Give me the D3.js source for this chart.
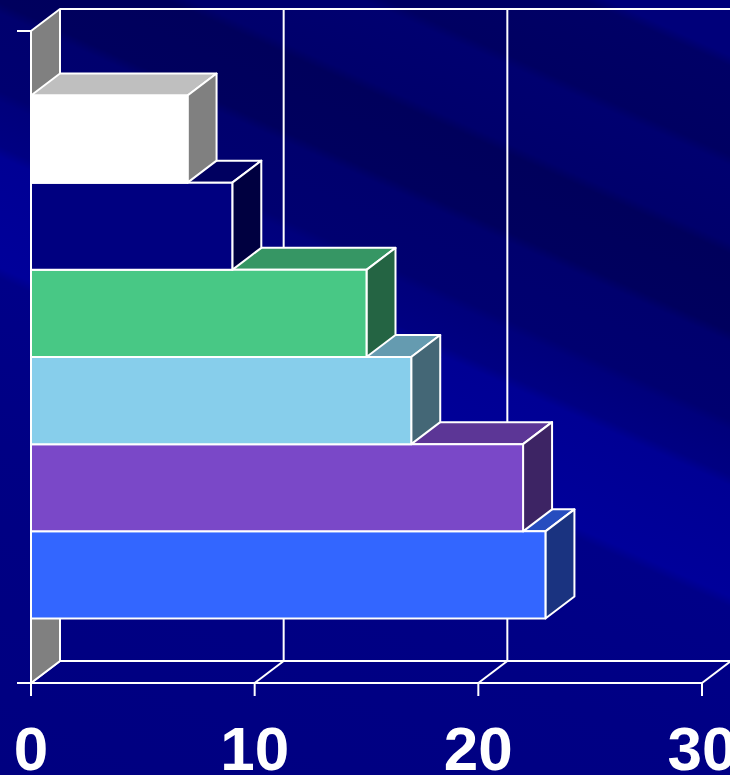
<!DOCTYPE html>
<html><head><meta charset="utf-8">
<script src="https://cdn.jsdelivr.net/npm/d3@7"></script>
<style>html,body{margin:0;padding:0;background:#000080;overflow:hidden}</style>
</head><body>
<svg id="chart" width="730" height="775"></svg>
<script>
const categories = ["A", "B", "C", "D", "E", "F"];
const values = [7, 9, 15, 17, 22, 23];
const colors = ["#FFFFFF", "#000080", "#48C885", "#87CEEB", "#7A48C8", "#3366FF"];
const xTicks = [0, 10, 20, 30];
const tickLabels = ["0", "10", "20", "30"];

const W = 730, H = 775;
const DX = 29, DY = 22;
const svg = d3.select("#chart");

// background with diagonal streaks
const defs = svg.append("defs");
const g = defs.append("linearGradient").attr("id", "bg")
  .attr("gradientUnits", "userSpaceOnUse")
  .attr("x1", 730).attr("y1", 0).attr("x2", 317).attr("y2", 918);
[[0, "#00007a"], [0.05, "#00007a"], [0.06, "#000066"], [0.14, "#000062"], [0.15, "#000070"],
 [0.22, "#00006c"], [0.23, "#00005c"], [0.3, "#00005e"], [0.31, "#00006e"], [0.38, "#000070"],
 [0.39, "#00007c"], [0.43, "#000082"], [0.44, "#000094"], [0.54, "#00009a"], [0.55, "#000088"],
 [0.7, "#000084"], [1, "#000080"]]
 .forEach(([o, c]) => g.append("stop").attr("offset", o).attr("stop-color", c));
svg.append("rect").attr("width", W).attr("height", H).attr("fill", "url(#bg)");

const x = d3.scaleLinear().domain([0, 30]).range([31, 702]);
const y = d3.scaleBand().domain(categories).range([31, 683]).paddingInner(0).paddingOuter(0.74);
const yTop = 31, yBot = 683;
const line = d3.line();
const stroke = "#FFFFFF";

// back wall / floor gridlines
const grid = svg.append("g").attr("fill", "none").attr("stroke", stroke).attr("stroke-width", 2);
grid.append("path").attr("d", line([[x(0) + DX, yTop - DY], [x(30) + DX, yTop - DY]]));
grid.append("path").attr("d", line([[x(0) + DX, yBot - DY], [x(30) + DX, yBot - DY]]));
xTicks.forEach(v => {
  grid.append("path").attr("d", line([[x(v) + DX, yTop - DY], [x(v) + DX, yBot - DY]]));
  grid.append("path").attr("d", line([[x(v), yBot], [x(v) + DX, yBot - DY]]));
});
// front x axis line and ticks
grid.append("path").attr("d", line([[17, yBot], [x(30), yBot]]));
grid.append("path").attr("d", line([[17, yTop], [x(0), yTop]]));
xTicks.forEach(v => grid.append("path").attr("d", line([[x(v), yBot], [x(v), yBot + 13]])));

// left wall
svg.append("path")
  .attr("d", line([[x(0), yTop], [x(0) + DX, yTop - DY], [x(0) + DX, yBot - DY], [x(0), yBot]]) + "Z")
  .attr("fill", "#808080").attr("stroke", stroke).attr("stroke-width", 2).attr("stroke-linejoin", "round");

function shade(c, k) {
  const r = d3.rgb(c);
  return d3.rgb(r.r * k, r.g * k, r.b * k).formatHex();
}

// bars (draw bottom first)
const bars = svg.append("g").attr("stroke", stroke).attr("stroke-width", 2).attr("stroke-linejoin", "round");
const idx = d3.range(categories.length).reverse();
idx.forEach(i => {
  const c = categories[i];
  const y0 = y(c), y1 = y(c) + y.bandwidth();
  const x0 = x(0), x1 = x(values[i]);
  const bg = bars.append("g");
  bg.append("path").attr("d", line([[x0, y0], [x1, y0], [x1 + DX, y0 - DY], [x0 + DX, y0 - DY]]) + "Z")
    .attr("fill", shade(colors[i], 0.75));
  bg.append("path").attr("d", line([[x1, y0], [x1 + DX, y0 - DY], [x1 + DX, y1 - DY], [x1, y1]]) + "Z")
    .attr("fill", shade(colors[i], 0.5));
  bg.append("path").attr("d", line([[x0, y0], [x1, y0], [x1, y1], [x0, y1]]) + "Z")
    .attr("fill", colors[i]);
});

// tick labels
svg.append("g").selectAll("text").data(xTicks).join("text")
  .attr("x", d => x(d)).attr("y", 770)
  .attr("text-anchor", "middle")
  .attr("font-family", "Liberation Sans, Arial, sans-serif")
  .attr("font-weight", "bold").attr("font-size", 62).attr("fill", "#FFFFFF")
  .text((d, i) => tickLabels[i]);
</script>
</body></html>
